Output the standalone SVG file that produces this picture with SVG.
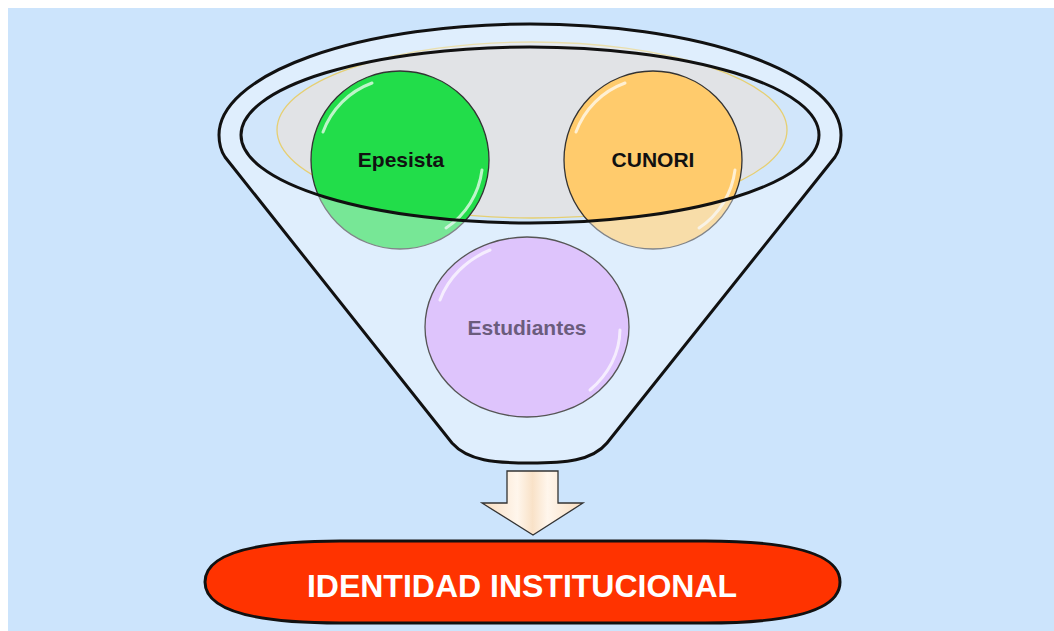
<svg xmlns="http://www.w3.org/2000/svg" width="1054" height="631" viewBox="0 0 1054 631">
<style>
.lbl{font-family:"Liberation Sans",Arial,sans-serif;font-weight:bold;text-anchor:middle}
.ring{fill:none;stroke:#111;stroke-width:3}
.gloss{fill:none;stroke:#fff;stroke-width:3;stroke-linecap:round;opacity:0.7}
.node{stroke:#333;stroke-width:1.3}
</style>
<defs>
<linearGradient id="shaft" x1="0" y1="0" x2="1" y2="0">
<stop offset="0" stop-color="#F8DDC0"/>
<stop offset="0.35" stop-color="#FFF6EC"/>
<stop offset="0.5" stop-color="#F9E2C8"/>
<stop offset="0.65" stop-color="#FFF6EC"/>
<stop offset="1" stop-color="#F8DDC0"/>
</linearGradient>
</defs>
<rect x="0" y="0" width="1054" height="631" fill="#fff"/>
<rect x="8" y="8" width="1046" height="623" fill="#CCE4FC"/>

<g id="funnel">
<path id="funnel-body" d="M219,135 A311,111 0 0 1 841,135 C841,145 839,151 835,157 L607,443 C592,461 565,463 530,463 C495,463 468,461 452,443 L225,157 C221,151 219,145 219,135 Z" fill="#D4E8FB"/>
<ellipse cx="530" cy="135" rx="289" ry="88" fill="#D1E6FB"/>
<ellipse cx="532" cy="130" rx="255" ry="88" fill="#E1E3E6" stroke="#E6CF72" stroke-width="1.3"/>
</g>

<g id="node-epesista">
<circle class="node" cx="400" cy="160" r="89" fill="#22DD4A"/>
<path class="gloss" d="M323,132 A82,82 0 0 1 372,83"/>
<path class="gloss" d="M482,170 A82,82 0 0 1 446,228"/>
<text class="lbl" x="401" y="167" font-size="21" fill="#111">Epesista</text>
</g>

<g id="node-cunori">
<circle class="node" cx="653" cy="160" r="89" fill="#FFCB6C"/>
<path class="gloss" d="M576,132 A82,82 0 0 1 625,83"/>
<path class="gloss" d="M735,170 A82,82 0 0 1 699,228"/>
<text class="lbl" x="653" y="167" font-size="21" fill="#111">CUNORI</text>
</g>

<g id="funnel-front">
<path d="M219,135 A311,111 0 0 1 841,135 C841,145 839,151 835,157 L607,443 C592,461 565,463 530,463 C495,463 468,461 452,443 L225,157 C221,151 219,145 219,135 Z M241,135 A289,88 0 0 0 819,135 A289,88 0 0 0 241,135 Z" fill="#EEF5FF" fill-opacity="0.42" fill-rule="evenodd"/>
<ellipse class="ring" cx="530" cy="135" rx="289" ry="88"/>
<path class="ring" d="M219,135 A311,111 0 0 1 841,135 C841,145 839,151 835,157 L607,443 C592,461 565,463 530,463 C495,463 468,461 452,443 L225,157 C221,151 219,145 219,135 Z"/>
</g>

<g id="node-estudiantes">
<ellipse cx="527" cy="327" rx="102" ry="90" fill="#DEC4FC" stroke="#555" stroke-width="1.3"/>
<path class="gloss" d="M440,300 A95,84 0 0 1 490,250" opacity="0.6"/>
<path class="gloss" d="M620,330 A95,84 0 0 1 590,390" opacity="0.6"/>
<text class="lbl" x="527" y="335" font-size="21" fill="#6B5C7C">Estudiantes</text>
</g>

<g id="connectors">
<path d="M507,471 L558,471 L558,503 L583,503 L533,535 L482,503 L507,503 Z" fill="url(#shaft)" stroke="#333" stroke-width="1.3" stroke-linejoin="miter"/>
</g>

<g id="node-identidad">
<path d="M205,582 C205,553 255,541 340,541 L705,541 C790,541 840,553 840,582 C840,611 790,623 705,623 L340,623 C255,623 205,611 205,582 Z" fill="#FF3300" stroke="#111" stroke-width="3"/>
<text class="lbl" x="522" y="597" font-size="32" fill="#fff">IDENTIDAD INSTITUCIONAL</text>
</g>
</svg>
